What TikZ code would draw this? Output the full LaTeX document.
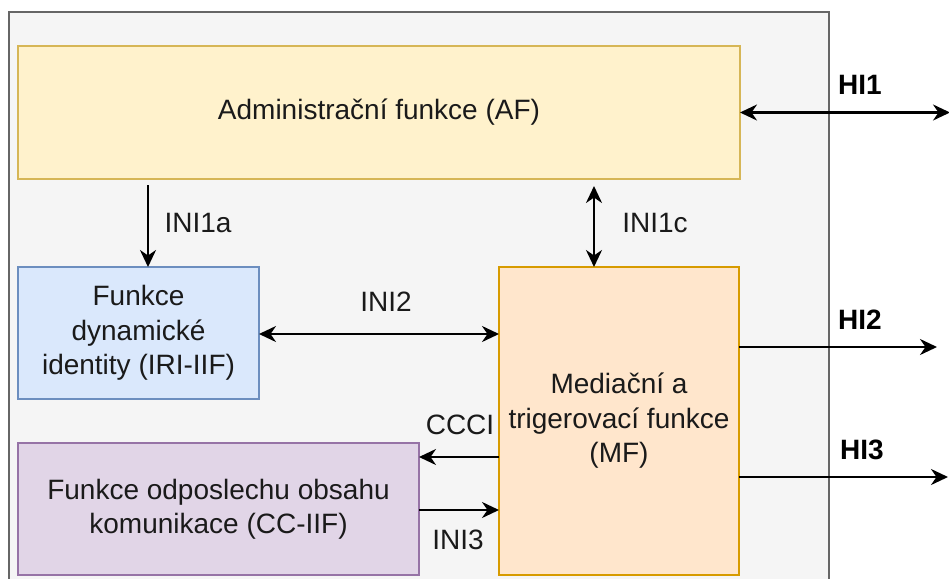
\documentclass[tikz,border=0pt]{standalone}
\usepackage{fontspec}
\setmainfont{Liberation Sans}
\usetikzlibrary{arrows.meta,calc}
\definecolor{contfill}{HTML}{F5F5F5}
\definecolor{contdraw}{HTML}{666666}
\definecolor{affill}{HTML}{FFF2CC}
\definecolor{afdraw}{HTML}{D6B656}
\definecolor{bluefill}{HTML}{DAE8FC}
\definecolor{bluedraw}{HTML}{6C8EBF}
\definecolor{orfill}{HTML}{FFE6CC}
\definecolor{ordraw}{HTML}{D79B00}
\definecolor{pufill}{HTML}{E1D5E7}
\definecolor{pudraw}{HTML}{9673A6}
\definecolor{txt}{HTML}{1A1A1A}
\tikzset{
  x=1pt, y=-1pt,
  box/.style={draw, line width=1.8pt, inner sep=0pt, outer sep=0pt, align=center,
    font=\fontsize{28}{34.5}\selectfont, text=txt},
  lbl/.style={inner sep=0pt, font=\fontsize{28}{34.5}\selectfont, text=txt},
  hlbl/.style={inner sep=0pt, font=\fontsize{28}{34.5}\selectfont\bfseries, text=black},
  ahead/.tip={Stealth[length=17pt,width=16pt,inset=5.5pt]},
  tip/.style={-ahead},
  dtip/.style={ahead-ahead},
  conn/.style={line width=2.4pt, draw=black}
}
\begin{document}
\begin{tikzpicture}
\useasboundingbox (0,0) rectangle (949,578);
\clip (0,0) rectangle (949,578);
\fill[white] (0,0) rectangle (949,578);
% container
\draw[fill=contfill, draw=contdraw, line width=1.8pt] (9,12) rectangle (829,620);
% boxes
\node[box, fill=affill, draw=afdraw, minimum width=722pt, minimum height=133pt, anchor=north west] (af) at (18,46) {Administrační funkce (AF)};
\node[box, fill=bluefill, draw=bluedraw, minimum width=241pt, minimum height=132pt, anchor=north west] (iri) at (18,267) {Funkce\\dynamické\\identity (IRI-IIF)};
\node[box, fill=orfill, draw=ordraw, minimum width=240pt, minimum height=308pt, anchor=north west] (mf) at (499,267) {Mediační a\\trigerovací funkce\\(MF)};
\node[box, fill=pufill, draw=pudraw, minimum width=401pt, minimum height=132pt, anchor=north west] (cc) at (18,443) {Funkce odposlechu obsahu\\komunikace (CC-IIF)};
% free ends
\coordinate (h1) at (950,113);
\coordinate (h2) at (937,347);
\coordinate (h3) at (948,477);
% connectors
\draw[conn, tip] ([xshift=9.5pt,yshift=-6pt] af.south -| iri.north) -- ([xshift=9.5pt] iri.north);
\draw[conn, dtip] ([xshift=-25pt,yshift=-7pt] af.south -| mf.north) -- ([xshift=-25pt] mf.north);
\draw[conn, dtip] ([yshift=-1pt] iri.east) -- ([yshift=-1pt] iri.east -| mf.west);
\draw[conn, tip] ([yshift=52pt] cc.east -| mf.west) -- ([yshift=52pt] cc.east);
\draw[conn, tip] ([yshift=-1pt] cc.east) -- ([yshift=-1pt] cc.east -| mf.west);
\draw[conn, dtip] (af.east) -- (af.east -| h1);
\draw[conn, tip] (mf.east |- h2) -- (h2);
\draw[conn, tip] (mf.east |- h3) -- (h3);
% labels
\node[lbl] (lini1a) at (198,223) {INI1a};
\node[lbl] (lini1c) at (655,223) {INI1c};
\node[lbl] (lini2) at (386,302) {INI2};
\node[lbl] (lccci) at (460,425) {CCCI};
\node[lbl] (lini3) at (458,540) {INI3};
\node[hlbl] (lhi1) at (860,85) {HI1};
\node[hlbl] (lhi2) at (860,320) {HI2};
\node[hlbl] (lhi3) at (862,450) {HI3};
\end{tikzpicture}
\end{document}
